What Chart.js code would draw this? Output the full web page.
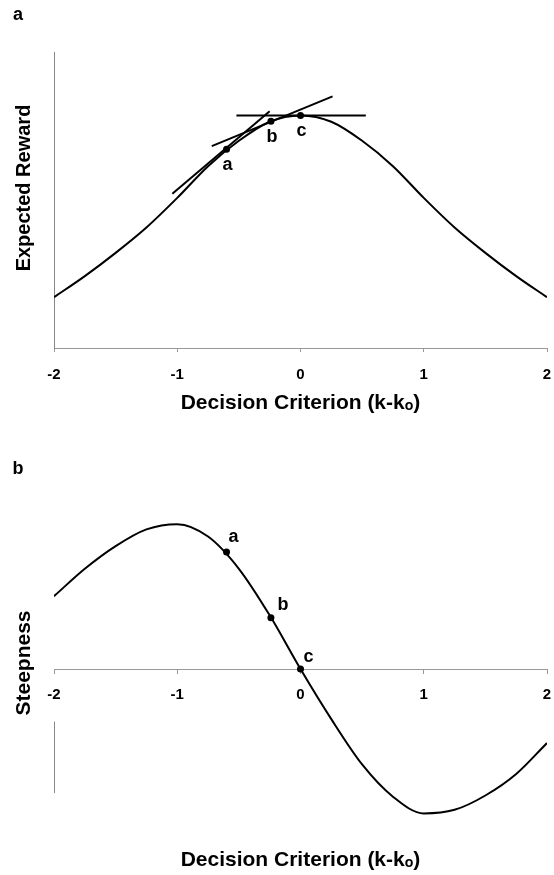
<!DOCTYPE html>
<html><head><meta charset="utf-8">
<script src="https://cdn.jsdelivr.net/npm/chart.js@4/dist/chart.umd.min.js"></script>
<style>
html,body{margin:0;padding:0;background:#fff;}
#wrapA{position:absolute;left:0;top:0;width:554px;height:437px;}
#wrapB{position:absolute;left:0;top:437px;width:554px;height:438px;}
</style></head><body>
<div id="wrapA"><canvas id="cA" width="554" height="437"></canvas></div>
<div id="wrapB"><canvas id="cB" width="554" height="438"></canvas></div>
<script>
// ---- data ----
const xTicks = [-2, -1, 0, 1, 2];
const xTickLabels = ['-2', '-1', '0', '1', '2'];
const curveX = [-2, -1.75, -1.5, -1.25, -1, -0.75, -0.5, -0.25, 0, 0.25, 0.5, 0.75, 1, 1.25, 1.5, 1.75, 2];
const rewardY = [0.24, 0.34, 0.45, 0.57, 0.71, 0.86, 0.98, 1.07, 1.10, 1.07, 0.98, 0.86, 0.71, 0.57, 0.45, 0.34, 0.24];
const steepY = [0.305, 0.42, 0.515, 0.585, 0.607, 0.555, 0.42, 0.225, 0, -0.21, -0.40, -0.535, -0.605, -0.59, -0.53, -0.44, -0.31];
const markX = [-0.6, -0.24, 0];
const markNames = ['a', 'b', 'c'];
const rewardMarkY = [0.94, 1.072, 1.10];
const steepMarkY = [0.49, 0.215, 0];
const tangentAX = [-1.04, -0.25], tangentAY = [0.73, 1.12];
const tangentBX = [-0.72, 0.26], tangentBY = [0.955, 1.19];
const tangentCX = [-0.52, 0.53], tangentCY = [1.10, 1.10];
const xTitle = 'Decision Criterion (k-k\u2092)';
const yTitleA = 'Expected Reward';
const yTitleB = 'Steepness';

const pts = (xs, ys) => xs.map((x, i) => ({x: x, y: ys[i]}));
const FONT = '"Liberation Sans", Arial, Helvetica, sans-serif';
Chart.defaults.font.family = FONT;
Chart.defaults.color = '#000';

function lineDs(xs, ys, smooth) {
  return {data: pts(xs, ys), showLine: true, borderColor: '#000', borderWidth: 2,
    pointRadius: 0, fill: false, cubicInterpolationMode: smooth ? 'monotone' : 'default', tension: 0};
}
function markDs(ys) {
  return {data: pts(markX, ys), showLine: false, pointRadius: 3.5, pointBackgroundColor: '#000',
    pointBorderColor: '#000', borderWidth: 0};
}
function labelPlugin(panel, panelY, ds, dx, dy, yTitle) {
  return {
    id: 'labels' + panel,
    afterDatasetsDraw(chart) {
      const ctx = chart.ctx;
      ctx.save();
      ctx.fillStyle = '#000';
      ctx.textAlign = 'center';
      ctx.textBaseline = 'middle';
      ctx.font = 'bold 18px ' + FONT;
      ctx.fillText(panel, 18, panelY);
      const meta = chart.getDatasetMeta(ds);
      meta.data.forEach((p, i) => {
        ctx.fillText(markNames[i], p.x + dx[i], p.y + dy[i]);
      });
      if (yTitle) {
        ctx.font = 'bold ' + yTitle.size + 'px ' + FONT;
        ctx.translate(yTitle.x, yTitle.y);
        ctx.rotate(-Math.PI / 2);
        ctx.fillText(yTitle.text, 0, 0);
      }
      ctx.restore();
    }
  };
}
const tickCb = v => { const i = xTicks.indexOf(v); return i >= 0 ? xTickLabels[i] : ''; };
const noPad = s => { s.paddingLeft = 0; s.paddingRight = 0; };

// ---- panel a ----
new Chart(document.getElementById('cA'), {
  type: 'scatter',
  data: {datasets: [
    lineDs(curveX, rewardY, true),
    lineDs(tangentAX, tangentAY, false),
    lineDs(tangentBX, tangentBY, false),
    lineDs(tangentCX, tangentCY, false),
    markDs(rewardMarkY)
  ]},
  options: {
    responsive: false, animation: false, devicePixelRatio: 1,
    layout: {padding: {top: 52, right: 7, left: 0, bottom: 0}},
    plugins: {legend: {display: false}, tooltip: {enabled: false}},
    scales: {
      x: {type: 'linear', min: -2, max: 2,
        ticks: {stepSize: 1, callback: tickCb, font: {size: 15, weight: 'bold'}, padding: 14, maxRotation: 0},
        grid: {display: true, drawOnChartArea: false, drawTicks: true, tickLength: 4, color: '#999'},
        border: {color: '#999', width: 1},
        title: {display: true, text: xTitle, font: {size: 21, weight: 'bold'}, padding: {top: 0, bottom: 21}},
        afterFit: s => { s.height = 89; noPad(s); }
      },
      y: {min: 0, max: 1.4,
        ticks: {display: false}, grid: {display: false},
        border: {color: '#888', width: 1},
        title: {display: false},
        afterFit: s => { s.width = 54; }
      }
    }
  },
  plugins: [labelPlugin('a', 15, 4, [1, 1, 1], [16, 16, 16], {text: yTitleA, x: 24, y: 188, size: 20})]
});

// ---- panel b ----
const partialAxis = {
  id: 'partialAxis',
  afterDatasetsDraw(chart) {
    const ctx = chart.ctx, y = chart.scales.y, x = chart.scales.x;
    ctx.save();
    ctx.strokeStyle = '#888';
    ctx.lineWidth = 1;
    ctx.beginPath();
    const px = Math.round(x.getPixelForValue(-2)) + 0.5;
    ctx.moveTo(px, y.getPixelForValue(-0.22));
    ctx.lineTo(px, y.getPixelForValue(-0.52));
    ctx.stroke();
    ctx.restore();
  }
};
new Chart(document.getElementById('cB'), {
  type: 'scatter',
  data: {datasets: [
    lineDs(curveX, steepY, true),
    markDs(steepMarkY)
  ]},
  options: {
    responsive: false, animation: false, devicePixelRatio: 1,
    layout: {padding: {top: 53, right: 7, left: 0, bottom: 0}},
    plugins: {legend: {display: false}, tooltip: {enabled: false}},
    scales: {
      x: {type: 'linear', min: -2, max: 2, position: {y: 0},
        ticks: {stepSize: 1, callback: tickCb, font: {size: 15, weight: 'bold'}, padding: 13, maxRotation: 0},
        grid: {display: true, drawOnChartArea: false, drawTicks: true, tickLength: 4, color: '#999'},
        border: {color: '#999', width: 1},
        title: {display: false},
        afterFit: noPad
      },
      x2: {type: 'linear', axis: 'x', position: 'bottom', min: -2, max: 2,
        ticks: {display: false}, grid: {display: false}, border: {display: false},
        title: {display: true, text: xTitle, font: {size: 21, weight: 'bold'}, padding: {top: 0, bottom: 2}},
        afterFit: s => { s.height = 27; noPad(s); }
      },
      y: {min: -0.75, max: 0.75,
        ticks: {display: false}, grid: {display: false},
        border: {display: false},
        title: {display: false},
        afterFit: s => { s.width = 54; }
      }
    }
  },
  plugins: [partialAxis, labelPlugin('b', 32, 1, [7, 12, 8], [-15, -13, -12], {text: yTitleB, x: 24, y: 226, size: 21})]
});
</script>
</body></html>
